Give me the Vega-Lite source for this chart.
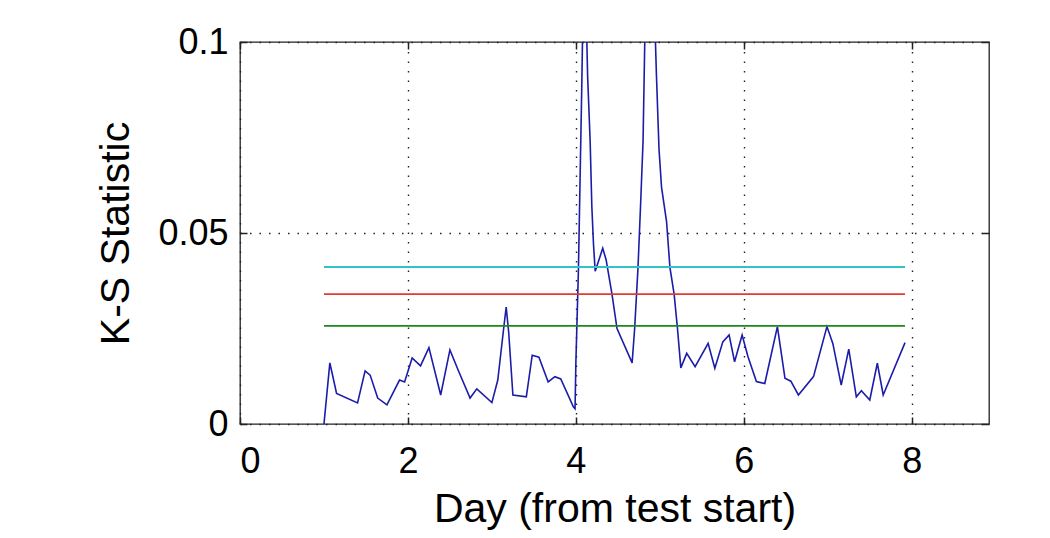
{
  "$schema": "https://vega.github.io/schema/vega-lite/v6.json",
  "width": 749,
  "height": 382,
  "autosize": {"type": "none"},
  "padding": {"left": 240, "top": 42, "right": 61, "bottom": 114},
  "background": "white",
  "config": {
    "view": {"stroke": "#222222", "strokeWidth": 1.3},
    "font": "Liberation Sans",
    "axis": {"labelFont": "Liberation Sans", "titleFont": "Liberation Sans", "labelColor": "black", "titleColor": "black", "titleFontWeight": "normal", "domain": false}
  },
  "datasets": {
    "ks": [
      {"day": 1.00, "ks": 0.0000}, {"day": 1.07, "ks": 0.0160}, {"day": 1.09, "ks": 0.0140}, {"day": 1.15, "ks": 0.0080},
      {"day": 1.40, "ks": 0.0055}, {"day": 1.49, "ks": 0.0139}, {"day": 1.55, "ks": 0.0128}, {"day": 1.64, "ks": 0.0068},
      {"day": 1.75, "ks": 0.0050}, {"day": 1.90, "ks": 0.0115}, {"day": 1.96, "ks": 0.0110}, {"day": 2.05, "ks": 0.0173},
      {"day": 2.15, "ks": 0.0152}, {"day": 2.25, "ks": 0.0200}, {"day": 2.39, "ks": 0.0076}, {"day": 2.50, "ks": 0.0194},
      {"day": 2.60, "ks": 0.0140}, {"day": 2.74, "ks": 0.0068}, {"day": 2.82, "ks": 0.0092}, {"day": 3.00, "ks": 0.0056},
      {"day": 3.07, "ks": 0.0115}, {"day": 3.14, "ks": 0.0250}, {"day": 3.17, "ks": 0.0306}, {"day": 3.20, "ks": 0.0240},
      {"day": 3.25, "ks": 0.0076}, {"day": 3.41, "ks": 0.0071}, {"day": 3.48, "ks": 0.0180}, {"day": 3.56, "ks": 0.0175},
      {"day": 3.67, "ks": 0.0110}, {"day": 3.75, "ks": 0.0124}, {"day": 3.82, "ks": 0.0118}, {"day": 3.97, "ks": 0.0045},
      {"day": 3.99, "ks": 0.0040}, {"day": 4.00, "ks": 0.0160}, {"day": 4.03, "ks": 0.0400}, {"day": 4.05, "ks": 0.0640},
      {"day": 4.07, "ks": 0.0880}, {"day": 4.10, "ks": 0.1300}, {"day": 4.14, "ks": 0.0910}, {"day": 4.17, "ks": 0.0740},
      {"day": 4.19, "ks": 0.0570}, {"day": 4.21, "ks": 0.0470}, {"day": 4.23, "ks": 0.0400}, {"day": 4.32, "ks": 0.0460},
      {"day": 4.36, "ks": 0.0430}, {"day": 4.43, "ks": 0.0340}, {"day": 4.49, "ks": 0.0250}, {"day": 4.67, "ks": 0.0160},
      {"day": 4.70, "ks": 0.0250}, {"day": 4.74, "ks": 0.0410}, {"day": 4.77, "ks": 0.0570}, {"day": 4.80, "ks": 0.0740},
      {"day": 4.84, "ks": 0.1250}, {"day": 4.92, "ks": 0.1200}, {"day": 4.96, "ks": 0.0910}, {"day": 4.99, "ks": 0.0720},
      {"day": 5.02, "ks": 0.0620}, {"day": 5.08, "ks": 0.0530}, {"day": 5.12, "ks": 0.0410}, {"day": 5.17, "ks": 0.0340},
      {"day": 5.21, "ks": 0.0250}, {"day": 5.25, "ks": 0.0147}, {"day": 5.32, "ks": 0.0185}, {"day": 5.42, "ks": 0.0150},
      {"day": 5.575, "ks": 0.0211}, {"day": 5.655, "ks": 0.0146}, {"day": 5.75, "ks": 0.0215}, {"day": 5.825, "ks": 0.0233},
      {"day": 5.89, "ks": 0.0163}, {"day": 5.98, "ks": 0.0233}, {"day": 6.05, "ks": 0.0176}, {"day": 6.15, "ks": 0.0111},
      {"day": 6.25, "ks": 0.0106}, {"day": 6.40, "ks": 0.0255}, {"day": 6.49, "ks": 0.0120}, {"day": 6.56, "ks": 0.0112},
      {"day": 6.65, "ks": 0.0076}, {"day": 6.83, "ks": 0.0124}, {"day": 6.99, "ks": 0.0255}, {"day": 7.06, "ks": 0.0211},
      {"day": 7.16, "ks": 0.0102}, {"day": 7.25, "ks": 0.0196}, {"day": 7.34, "ks": 0.0071}, {"day": 7.40, "ks": 0.0087},
      {"day": 7.50, "ks": 0.0063}, {"day": 7.59, "ks": 0.0159}, {"day": 7.66, "ks": 0.0076}, {"day": 7.92, "ks": 0.0213}
    ],
    "thr": [
      {"start": 1.0, "end": 7.92, "level": 0.0411, "name": "cyan"},
      {"start": 1.0, "end": 7.92, "level": 0.0340, "name": "red"},
      {"start": 1.0, "end": 7.92, "level": 0.0257, "name": "green"}
    ]
  },
  "layer": [
    {
      "data": {"name": "ks"},
      "mark": {"type": "line", "color": "#1c1caa", "strokeWidth": 1.6, "clip": true},
      "encoding": {
        "x": {"field": "day", "type": "quantitative", "scale": {"domain": [0, 8.92], "nice": false, "zero": false},
          "axis": {"orient": "bottom", "title": "Day (from test start)", "values": [0, 2, 4, 6, 8], "format": "d",
            "labelFontSize": 36, "titleFontSize": 41, "tickSize": -7, "tickWidth": 1.5, "tickColor": "#222222", "labelPadding": 27,
            "grid": true, "gridDash": [1.5, 8], "gridColor": "#222222", "gridWidth": 1.4,
            "titleY": 97, "titleBaseline": "alphabetic"}},
        "y": {"field": "ks", "type": "quantitative", "scale": {"domain": [0, 0.1], "nice": false},
          "axis": {"orient": "left", "title": "K-S Statistic", "values": [0, 0.05, 0.1], "format": ".2~f",
            "labelFontSize": 36, "titleFontSize": 41, "tickSize": -7, "tickWidth": 1.5, "tickColor": "#222222", "labelPadding": 19,
            "grid": true, "gridDash": [1.5, 8], "gridColor": "#222222", "gridWidth": 1.4,
            "titleX": -112, "titleY": 191, "titleBaseline": "alphabetic", "titleAngle": 270}}
      }
    },
    {
      "data": {"name": "thr"},
      "mark": {"type": "rule", "strokeWidth": 1.8},
      "encoding": {
        "x": {"field": "start", "type": "quantitative",
          "axis": {"orient": "top", "title": null, "values": [0, 2, 4, 6, 8], "labels": false, "grid": false, "tickSize": -7, "tickWidth": 1.5, "tickColor": "#222222"}},
        "x2": {"field": "end"},
        "y": {"field": "level", "type": "quantitative",
          "axis": {"orient": "right", "title": null, "values": [0, 0.05, 0.1], "labels": false, "grid": false, "tickSize": -7, "tickWidth": 1.5, "tickColor": "#222222"}},
        "color": {"field": "name", "type": "nominal", "legend": null,
          "scale": {"domain": ["cyan", "red", "green"], "range": ["#30c4c8", "#e03a32", "#1a8a1a"]}}
      }
    }
  ],
  "resolve": {"axis": {"x": "independent", "y": "independent"}}
}
